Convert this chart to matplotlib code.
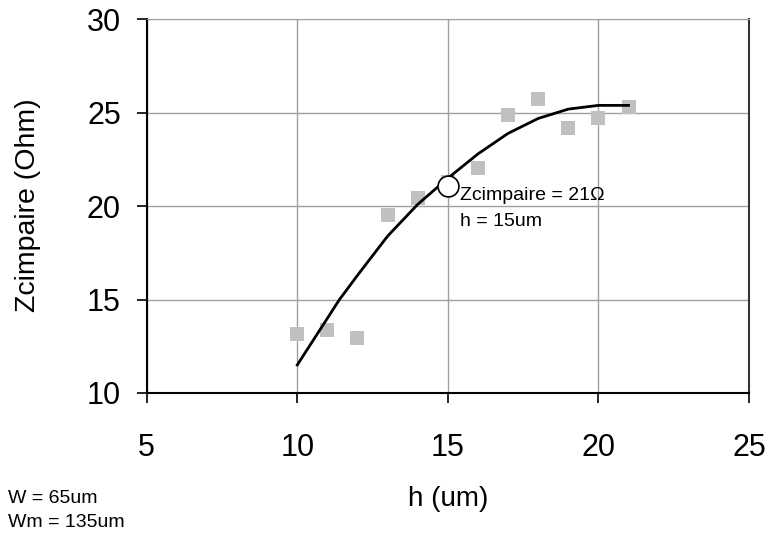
import matplotlib.pyplot as plt

plt.rcParams['font.family'] = ['Liberation Sans', 'DejaVu Sans']

# measured points
h_pts = [10, 11, 12, 13, 14, 15, 16, 17, 18, 19, 20, 21]
z_pts = [13.16, 13.37, 12.94, 19.53, 20.44, 21.3, 22.05, 24.88, 25.74, 24.19, 24.72, 25.31]

# fitted curve
h_fit = [10, 11, 11.4, 12, 13, 14, 15, 16, 17, 18, 19, 20, 21]
z_fit = [11.5, 14.0, 15.0, 16.3, 18.4, 20.1, 21.5, 22.8, 23.9, 24.7, 25.2, 25.4, 25.4]

# highlighted point
h_mark = 15
z_mark = 21.07

fig = plt.figure(figsize=(7.7, 5.41), dpi=100)
ax = fig.add_axes([0.1905, 0.2736, 0.7822, 0.6904])

ax.scatter(h_pts, z_pts, marker='s', s=92, color='#c0c0c0', zorder=2, linewidths=0)
ax.plot(h_fit, z_fit, color='black', lw=2, zorder=3)
ax.plot([h_mark], [z_mark], marker='o', ms=15, mfc='white', mec='black', mew=1.2, zorder=4)
ax.text(15.40, 20.33, 'Zcimpaire = 21Ω', fontsize=14, va='baseline', zorder=5)
ax.text(15.40, 18.94, 'h = 15um', fontsize=14, va='baseline', zorder=5)

ax.set_xlim(5, 25)
ax.set_ylim(10, 30)
ax.set_xticks([5, 10, 15, 20, 25])
ax.set_yticks([10, 15, 20, 25, 30])
ax.grid(True, color='#a0a0a0', lw=1)
ax.set_axisbelow(True)
ax.tick_params(labelsize=22, direction='out', length=7.5, width=1.2, color='black')
ax.tick_params(axis='x', pad=21)
ax.tick_params(axis='y', pad=11)
ax.set_xlabel('h (um)', fontsize=20)
ax.set_ylabel('Zcimpaire (Ohm)', fontsize=20.5)
ax.xaxis.set_label_coords(0.5, -0.284)
ax.xaxis.label.set_va('center')
ax.yaxis.set_label_coords(-0.197, 0.503)
ax.yaxis.label.set_va('center')
for s in ['left', 'bottom']:
    ax.spines[s].set_linewidth(1.5)
ax.spines['top'].set_color('#a0a0a0')
ax.spines['right'].set_color('#333333')
ax.spines['right'].set_linewidth(1.5)

fig.text(0.0104, 0.0702, 'W = 65um', fontsize=14, va='baseline')
fig.text(0.0104, 0.0259, 'Wm = 135um', fontsize=14, va='baseline')

fig.savefig('out.png', dpi=100)
